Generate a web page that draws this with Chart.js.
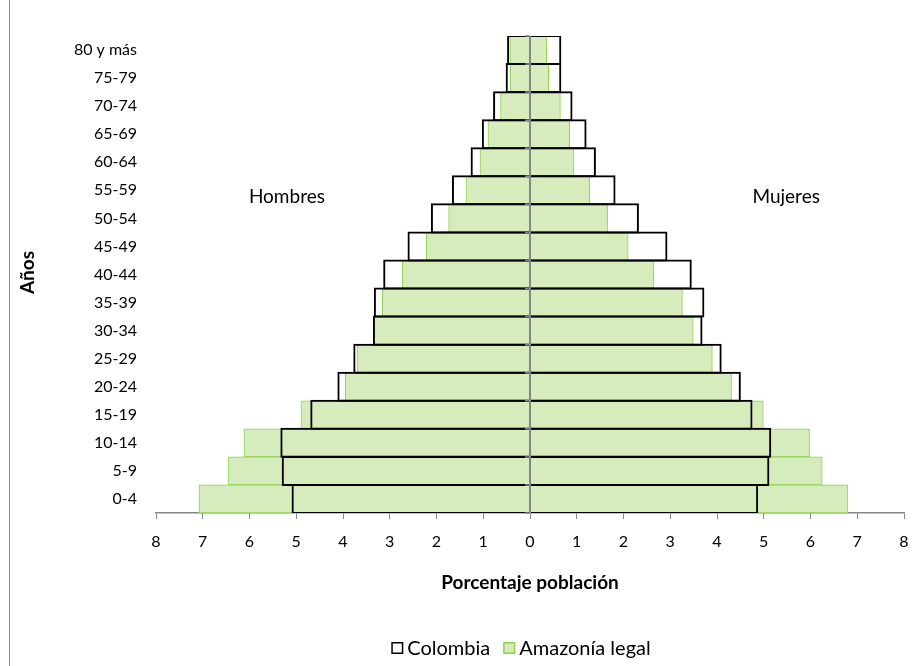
<!DOCTYPE html>
<html>
<head>
<meta charset="utf-8">
<script src="https://cdn.jsdelivr.net/npm/chart.js@4.4.1/dist/chart.umd.min.js"></script>
<style>
  html, body { margin: 0; padding: 0; background: #fff; }
  #wrap { width: 919px; height: 666px; position: relative; }
</style>
</head>
<body>
<div id="wrap"><canvas id="c" width="919" height="666"></canvas></div>
<script>
// ---- Data ----
const categories = ['80 y más','75-79','70-74','65-69','60-64','55-59','50-54','45-49','40-44','35-39','30-34','25-29','20-24','15-19','10-14','5-9','0-4'];
const colombiaHombres = [0.49,0.52,0.79,1.03,1.27,1.67,2.12,2.62,3.14,3.34,3.36,3.78,4.12,4.70,5.34,5.31,5.10];
const colombiaMujeres = [0.67,0.67,0.91,1.21,1.41,1.83,2.33,2.94,3.46,3.73,3.69,4.10,4.51,4.76,5.16,5.12,4.88];
const amazoniaHombres = [0.43,0.42,0.63,0.90,1.07,1.37,1.74,2.22,2.73,3.16,3.34,3.70,3.95,4.90,6.12,6.46,7.08];
const amazoniaMujeres = [0.36,0.40,0.65,0.85,0.94,1.28,1.66,2.10,2.65,3.26,3.49,3.90,4.31,4.99,5.98,6.25,6.80];
const xTickValues = [-8,-7,-6,-5,-4,-3,-2,-1,0,1,2,3,4,5,6,7,8];
const seriesNames = ['Colombia', 'Amazonía legal'];
const sideLabels = ['Hombres', 'Mujeres'];
const xTitle = 'Porcentaje población';
const yTitle = 'Años';

const FONT = 'Lato, "Open Sans", sans-serif';
const GREEN_FILL = '#d6ecbd';
const GREEN_LINE = '#8fd14f';

const colombiaStyle = {
  backgroundColor: 'rgba(255,255,255,0)',
  borderColor: '#000000',
  borderWidth: 2,
  borderSkipped: 'start',
  grouped: false,
  categoryPercentage: 1,
  barPercentage: 1.07
};
const amazoniaStyle = {
  backgroundColor: GREEN_FILL,
  borderColor: GREEN_LINE,
  borderWidth: 1,
  borderSkipped: 'start',
  grouped: false,
  categoryPercentage: 1,
  barPercentage: 1
};

const decor = {
  id: 'decor',
  beforeDraw(chart) {
    const ctx = chart.ctx;
    ctx.save();
    ctx.strokeStyle = '#8c8c8c';
    ctx.lineWidth = 1;
    ctx.beginPath();
    ctx.moveTo(9.5, 0);
    ctx.lineTo(9.5, chart.height);
    ctx.stroke();
    ctx.restore();
  },
  afterDatasetsDraw(chart) {
    const ctx = chart.ctx;
    const xs = chart.scales.x, ys = chart.scales.y;
    const a = chart.chartArea;
    const x0 = xs.getPixelForValue(0);
    ctx.save();
    ctx.strokeStyle = '#858585';
    ctx.lineWidth = 2;
    ctx.beginPath();
    ctx.moveTo(x0, a.top);
    ctx.lineTo(x0, a.bottom);
    ctx.stroke();
    ctx.lineWidth = 1.5;
    ctx.beginPath();
    for (let i = 0; i <= categories.length; i++) {
      const y = ys.getPixelForValue(i - 0.5);
      ctx.moveTo(x0 - 5, y);
      ctx.lineTo(x0, y);
    }
    ctx.stroke();
    ctx.restore();
  },
  afterDraw(chart) {
    const ctx = chart.ctx;
    const xs = chart.scales.x, ys = chart.scales.y;
    const a = chart.chartArea;
    ctx.save();
    ctx.fillStyle = '#000';
    ctx.textBaseline = 'middle';
    ctx.textAlign = 'center';
    // side labels
    ctx.font = '19px ' + FONT;
    const ySide = ys.getPixelForValue(5.23);
    ctx.fillText(sideLabels[0], xs.getPixelForValue(-5.2), ySide);
    ctx.fillText(sideLabels[1], xs.getPixelForValue(5.48), ySide);
    // x title
    ctx.font = 'bold 19px ' + FONT;
    ctx.fillText(xTitle, xs.getPixelForValue(0), 583);
    // y title
    ctx.save();
    ctx.translate(28, (a.top + a.bottom) / 2 - 2);
    ctx.rotate(-Math.PI / 2);
    ctx.fillText(yTitle, 0, 0);
    ctx.restore();
    // legend
    ctx.font = '20px ' + FONT;
    ctx.textAlign = 'left';
    const ly = 648;
    const w1 = ctx.measureText(seriesNames[0]).width;
    const w2 = ctx.measureText(seriesNames[1]).width;
    const box = 12, gapBoxText = 4, gapItems = 13;
    const total = box + gapBoxText + w1 + gapItems + box + gapBoxText + w2;
    let lx = 521 - total / 2;
    ctx.fillStyle = '#fff';
    ctx.strokeStyle = '#000';
    ctx.lineWidth = 1.5;
    ctx.fillRect(lx, ly - 6, box, box);
    ctx.strokeRect(lx + 0.75, ly - 5.25, box - 1.5, box - 1.5);
    ctx.fillStyle = '#000';
    ctx.fillText(seriesNames[0], lx + box + gapBoxText, ly + 1);
    lx += box + gapBoxText + w1 + gapItems;
    ctx.fillStyle = GREEN_FILL;
    ctx.fillRect(lx, ly - 6, box, box);
    ctx.strokeStyle = GREEN_LINE;
    ctx.strokeRect(lx + 0.75, ly - 5.25, box - 1.5, box - 1.5);
    ctx.fillStyle = '#000';
    ctx.fillText(seriesNames[1], lx + box + gapBoxText, ly + 1);
    ctx.restore();
  }
};

new Chart(document.getElementById('c'), {
  type: 'bar',
  data: {
    labels: categories,
    datasets: [
      Object.assign({ label: seriesNames[0], data: colombiaHombres.map(v => -v) }, colombiaStyle),
      Object.assign({ label: seriesNames[0], data: colombiaMujeres }, colombiaStyle),
      Object.assign({ label: seriesNames[1], data: amazoniaHombres.map(v => -v) }, amazoniaStyle),
      Object.assign({ label: seriesNames[1], data: amazoniaMujeres }, amazoniaStyle)
    ]
  },
  options: {
    indexAxis: 'y',
    responsive: false,
    animation: false,
    devicePixelRatio: 1,
    layout: { padding: { top: 36, right: 15, left: 0, bottom: 0 } },
    plugins: { legend: { display: false }, tooltip: { enabled: false } },
    scales: {
      x: {
        type: 'linear',
        min: -8, max: 8,
        afterBuildTicks(scale) { scale.ticks = xTickValues.map(v => ({ value: v })); },
        afterFit(scale) { scale.height = 153; scale.paddingLeft = 0; scale.paddingRight = 0; },
        ticks: {
          callback: v => String(Math.abs(v)),
          font: { family: FONT, size: 16 },
          color: '#000',
          padding: 13,
          maxRotation: 0,
          autoSkip: false
        },
        grid: { drawOnChartArea: false, drawTicks: true, tickLength: 6, color: '#868686', lineWidth: 1 },
        border: { display: true, color: '#868686', width: 1.5 }
      },
      y: {
        type: 'category',
        afterFit(scale) { scale.width = 156; scale.paddingTop = 0; scale.paddingBottom = 0; },
        ticks: {
          font: { family: FONT, size: 16 },
          color: '#000',
          padding: 19,
          autoSkip: false
        },
        grid: { display: false, drawTicks: false },
        border: { display: false }
      }
    }
  },
  plugins: [decor]
});
</script>
</body>
</html>
